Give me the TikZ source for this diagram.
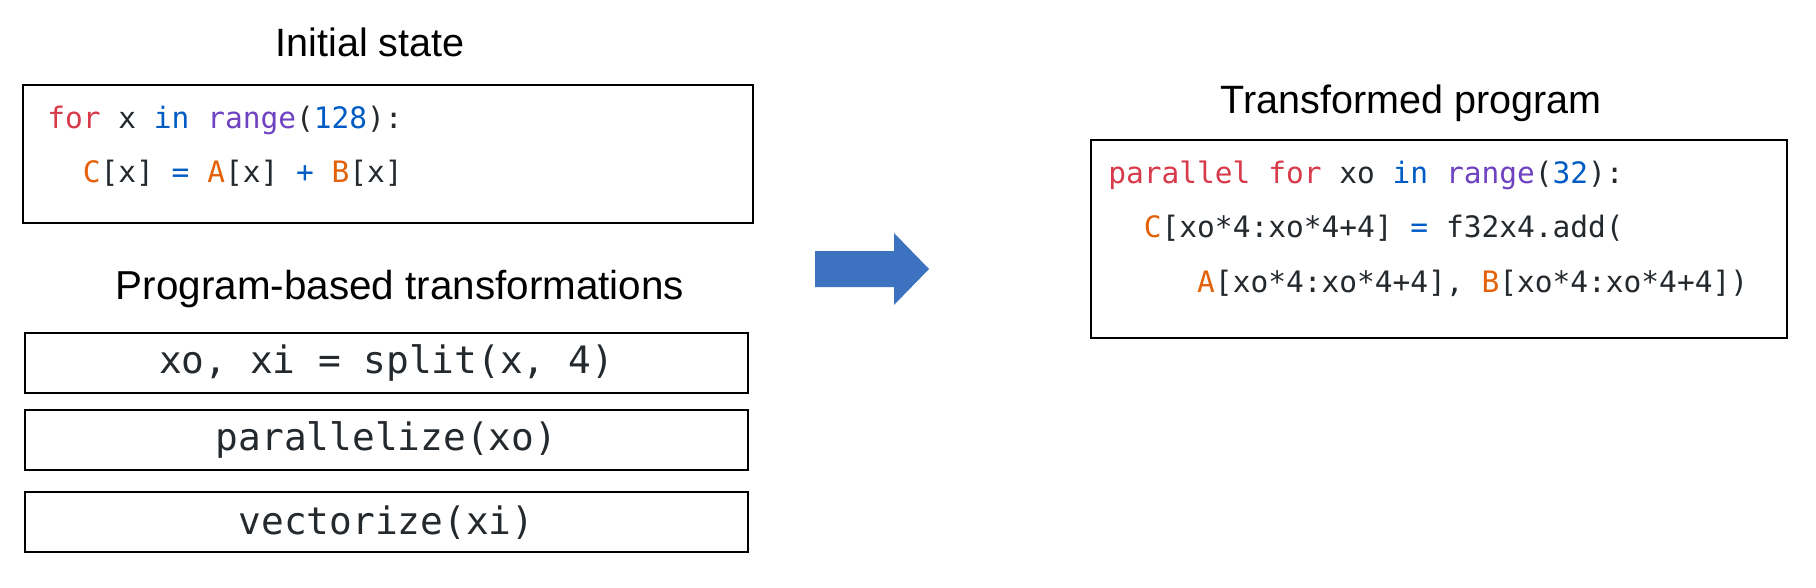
\documentclass[tikz,border=0pt]{standalone}
\usepackage{fontspec}
\setmainfont{Liberation Sans}
\setmonofont{DejaVu Sans Mono}
\usepackage{tikz}
\usetikzlibrary{positioning}
\definecolor{kwred}{HTML}{D73A49}
\definecolor{kwblue}{HTML}{005CC5}
\definecolor{fnpurple}{HTML}{6F42C1}
\definecolor{tensorange}{HTML}{E36209}
\definecolor{codegray}{HTML}{24292E}
\definecolor{arrowblue}{RGB}{61,114,192}
\newcommand{\kw}[1]{\textcolor{kwred}{#1}}
\newcommand{\op}[1]{\textcolor{kwblue}{#1}}
\newcommand{\fn}[1]{\textcolor{fnpurple}{#1}}
\newcommand{\tens}[1]{\textcolor{tensorange}{#1}}

\begin{document}
\begin{tikzpicture}[x=0.02cm, y=-0.02cm,
  title/.style={font=\fontsize{22.5}{27}\selectfont, anchor=base, inner sep=0pt},
  codebox/.style={draw, line width=1.4pt, inner sep=0pt},
  code/.style={font=\ttfamily\fontsize{16.8}{30}\selectfont, text=codegray, anchor=base west, inner sep=0pt},
  passbox/.style={draw, line width=1.2pt, minimum width=14.46cm, minimum height=1.2cm, inner sep=0pt,
    font=\ttfamily\fontsize{21.5}{26}\selectfont, text=codegray}]
  \useasboundingbox (0,0) rectangle (1816,588);

  % initial state
  \node[title] (inittitle) at (370,57) {Initial state};
  \node[codebox, minimum width=14.6cm, minimum height=2.76cm] (initbox) at (388,154) {};
  \node[code] (i1) at (47,129) {\kw{for} x \op{in} \fn{range}(\op{128}):};
  \node[code] (i2) at (47,182) {\phantom{xx}\tens{C}[x] \op{=} \tens{A}[x] \op{+} \tens{B}[x]};

  % schedule
  \node[title, font=\fontsize{23}{27}\selectfont] (passtitle) at (400,299) {Program-based transformations};
  \node[passbox] (split) at (386.5,363) {xo, xi = split(x, 4)};
  \node[passbox, below=0.3cm of split] (par) {parallelize(xo)};
  \node[passbox, below=0.4cm of par] (vec) {vectorize(xi)};

  \fill[arrowblue] (815,251) -- (894,251) -- (894,233) -- (929,269) -- (894,305) -- (894,287) -- (815,287) -- cycle;

  % result
  \node[title] (outtitle) at (1411,113) {Transformed program};
  \node[codebox, minimum width=13.92cm, minimum height=3.96cm] (outbox) at (1439,239) {};
  \node[code] (o1) at (1108,183) {\kw{parallel for} xo \op{in} \fn{range}(\op{32}):};
  \node[code] (o2) at (1108,237) {\phantom{xx}\tens{C}[xo*4:xo*4+4] \op{=} f32x4.add(};
  \node[code] (o3) at (1108,292) {\phantom{xxxxx}\tens{A}[xo*4:xo*4+4], \tens{B}[xo*4:xo*4+4])};
\end{tikzpicture}
\end{document}
